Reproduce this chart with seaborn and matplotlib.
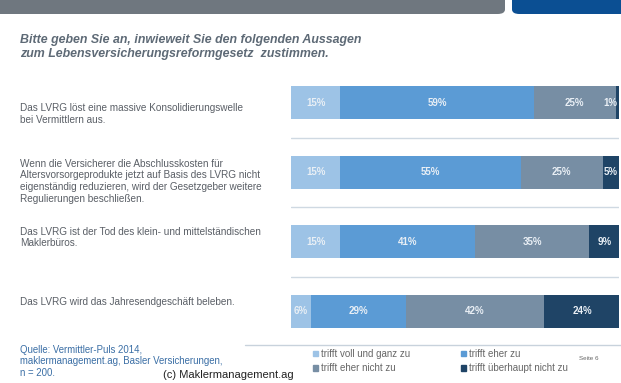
#Importing libraries
import numpy as np
import pandas as pd
import seaborn as sns
import matplotlib.pyplot as plt
from matplotlib.patches import FancyBboxPatch, Patch
from matplotlib.lines import Line2D
from matplotlib.transforms import blended_transform_factory

#Chart data
statements = [
    "Das LVRG löst eine massive Konsolidierungswelle\nbei Vermittlern aus.",
    "Wenn die Versicherer die Abschlusskosten für\nAltersvorsorgeprodukte jetzt auf Basis des LVRG nicht\neigenständig reduzieren, wird der Gesetzgeber weitere\nRegulierungen beschließen.",
    "Das LVRG ist der Tod des klein- und mittelständischen\nMaklerbüros.",
    "Das LVRG wird das Jahresendgeschäft beleben.",
]
answers = ["trifft voll und ganz zu", "trifft eher zu",
           "trifft eher nicht zu", "trifft überhaupt nicht zu"]
voll = [15, 15, 15, 6]
eher = [59, 55, 41, 29]
eher_nicht = [25, 25, 35, 42]
ueberhaupt_nicht = [1, 5, 9, 24]
source_lines = ["Quelle: Vermittler-Puls 2014,",
                "maklermanagement.ag, Basler Versicherungen,",
                "n = 200."]

colors = ["#9dc3e6", "#5b9bd5", "#778ea4", "#1f4466"]

sns.set_style("white")
plt.rcParams['font.family'] = ['Liberation Sans', 'DejaVu Sans']

df = pd.DataFrame({'Aussage': [f"s{i}" for i in range(len(statements))],
                   answers[0]: voll, answers[1]: eher,
                   answers[2]: eher_nicht, answers[3]: ueberhaupt_nicht})
cum = df[answers].cumsum(axis=1)

fig = plt.figure(figsize=(6.21, 3.83), dpi=100)
W, H = 621, 383
ax = fig.add_axes([291 / W, 1 - 346 / H, 328 / W, 278 / H])

#Stacked bars: draw cumulative totals from largest to smallest
for col, c in reversed(list(zip(answers, colors))):
    sns.barplot(x=cum[col], y=df['Aussage'], color=c, orient='h',
                width=0.47, saturation=1, linewidth=0, ax=ax)

ax.set_xlim(0, 100)
ax.set_ylim(3.5, -0.5)
ax.axis('off')

#Segment labels
for i in range(len(df)):
    for col in answers:
        v = df.loc[i, col]
        x = cum.loc[i, col] - v / 2
        if v < 3:
            x = cum.loc[i, col] - 2.5
        ax.text(x, i, f"{v}%", ha='center', va='center',
                fontsize=7, fontweight='bold', color='#e9eff5', clip_on=False)

#Separator lines between rows
for y in [0.5, 1.5, 2.5]:
    ax.axhline(y, color='#cfd9e2', lw=1)

#Statement labels
trans = blended_transform_factory(fig.transFigure, ax.transData)
offsets = [0.16, 0.13, -0.06, -0.13]
for i, (s, o) in enumerate(zip(statements, offsets)):
    ax.text(20 / W, i + o, s, transform=trans, ha='left', va='center',
            fontsize=7.2, color='#5a5f66', linespacing=1.2)

#Header bars
fig.add_artist(FancyBboxPatch((-10 / W, 1 - 14 / H), 515 / W, 30 / H,
                              boxstyle="round,pad=0,rounding_size=0.012",
                              transform=fig.transFigure, color='#6f777f', lw=0))
fig.add_artist(FancyBboxPatch((512 / W, 1 - 14 / H), 130 / W, 30 / H,
                              boxstyle="round,pad=0,rounding_size=0.012",
                              transform=fig.transFigure, color='#0b4f93', lw=0))

#Title
fig.text(20 / W, 1 - 47 / H,
         "Bitte geben Sie an, inwieweit Sie den folgenden Aussagen\nzum Lebensversicherungsreformgesetz  zustimmen.",
         fontsize=8.9, fontweight='bold', fontstyle='italic', color='#5e6a76',
         ha='left', va='center', linespacing=1.2)

#Source
for k, line in enumerate(source_lines):
    fig.text(20 / W, 1 - (350 + 11.5 * k) / H, line,
             fontsize=6.9, color='#3a6ea5', ha='left', va='center')
fig.text(163 / W, 1 - 375 / H, "(c) Maklermanagement.ag", fontsize=8,
         color='#222222', ha='left', va='center')

#Legend
fig.add_artist(Line2D([245 / W, 1], [1 - 345 / H, 1 - 345 / H],
                      transform=fig.transFigure, color='#c8d2dc', lw=1))
legend_order = [0, 2, 1, 3]
handles = [Patch(color=colors[k], label=answers[k]) for k in legend_order]
fig.legend(handles=handles, ncol=2, loc='upper left',
           bbox_to_anchor=(313 / W, 1 - 349 / H), frameon=False,
           fontsize=7, handlelength=0.5, handleheight=0.5, handletextpad=0.3,
           columnspacing=5.3, labelspacing=0.45, labelcolor='#666666',
           borderpad=0, borderaxespad=0)
fig.text(579 / W, 1 - 359 / H, "Seite 6", fontsize=4.5, color='#666666',
         ha='left', va='center')

fig.savefig('out.png', dpi=100)
